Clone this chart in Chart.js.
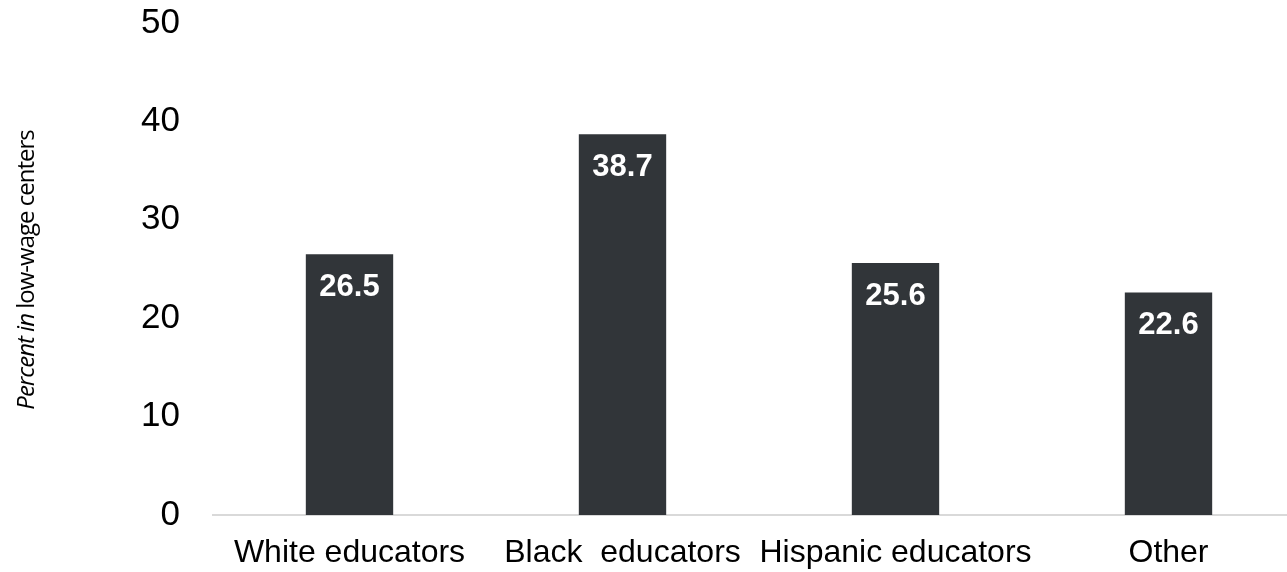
<!DOCTYPE html>
<html>
<head>
<meta charset="utf-8">
<script src="https://cdn.jsdelivr.net/npm/chart.js@4/dist/chart.umd.min.js"></script>
<style>
  html, body { margin: 0; padding: 0; background: #fff; overflow: hidden; }
  #wrap { width: 1305px; height: 572px; }
</style>
</head>
<body>
<div id="wrap"><canvas id="chart-wage"></canvas></div>
<script>
const categories = ['White educators', 'Black  educators', 'Hispanic educators', 'Other'];
const lowWageShare = [26.5, 38.7, 25.6, 22.6];
const yTicks = [0, 10, 20, 30, 40, 50];

// white value labels inside the top of each bar
const barLabels = {
    id: 'barLabels',
    afterDatasetsDraw(chart) {
        const ctx = chart.ctx;
        const meta = chart.getDatasetMeta(0);
        ctx.save();
        ctx.font = 'bold 31px "Liberation Sans", Arial, sans-serif';
        ctx.fillStyle = '#ffffff';
        ctx.textAlign = 'center';
        ctx.textBaseline = 'middle';
        meta.data.forEach((bar, i) => {
            ctx.fillText(lowWageShare[i].toFixed(1), bar.x, bar.y + 33);
        });
        ctx.restore();
    }
};

// y title: "Percent in" italic, rest upright
const yTitle = {
    id: 'yTitle',
    afterDraw(chart) {
        const ctx = chart.ctx;
        const runs = [
            ['Percent in', 'italic'],
            [' low-wage centers', 'normal']
        ];
        const size = 24;
        ctx.save();
        ctx.letterSpacing = '-1px';
        let total = 0;
        runs.forEach(([t, st]) => {
            ctx.font = `${st} ${size}px "Open Sans", sans-serif`;
            total += ctx.measureText(t).width;
        });
        ctx.translate(27, 270);
        ctx.rotate(-Math.PI / 2);
        ctx.fillStyle = '#000';
        ctx.textBaseline = 'middle';
        ctx.textAlign = 'left';
        let x = -total / 2;
        runs.forEach(([t, st]) => {
            ctx.font = `${st} ${size}px "Open Sans", sans-serif`;
            ctx.fillText(t, x, 0);
            x += ctx.measureText(t).width;
        });
        ctx.restore();
    }
};

new Chart(document.getElementById('chart-wage'), {
    type: 'bar',
    data: {
        labels: categories,
        datasets: [{
            data: lowWageShare,
            backgroundColor: '#313539',
            barPercentage: 0.32,
            categoryPercentage: 1
        }]
    },
    options: {
        responsive: true,
        maintainAspectRatio: false,
        animation: false,
        layout: { padding: { top: 23, left: 0, right: 0, bottom: 0 } },
        plugins: {
            legend: { display: false },
            tooltip: { enabled: false }
        },
        scales: {
            x: {
                grid: { display: true, drawOnChartArea: false, drawTicks: false },
                border: { display: true, color: '#d9d9d9', width: 2 },
                ticks: {
                    color: '#000',
                    padding: 19,
                    maxRotation: 0,
                    autoSkip: false,
                    font: { family: '"Liberation Sans", Arial, sans-serif', size: 32 }
                },
                afterFit(scale) { scale.height = 57; scale.paddingLeft = 0; scale.paddingRight = 0; }
            },
            y: {
                min: 0,
                max: 50,
                grid: { display: false },
                border: { display: false },
                afterBuildTicks(scale) { scale.ticks = yTicks.map(v => ({ value: v })); },
                ticks: {
                    color: '#000',
                    padding: 25,
                    font: { family: '"Liberation Sans", Arial, sans-serif', size: 35 }
                },
                afterFit(scale) { scale.width = 213; scale.paddingTop = 0; scale.paddingBottom = 0; }
            }
        }
    },
    plugins: [barLabels, yTitle]
});
</script>
</body>
</html>
